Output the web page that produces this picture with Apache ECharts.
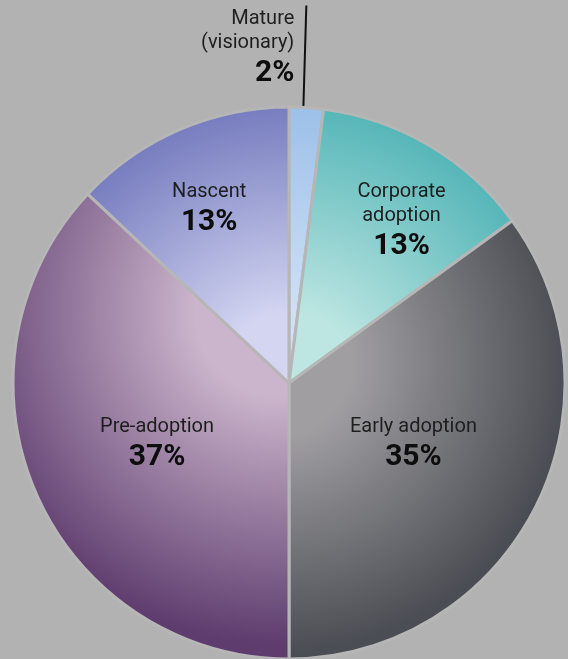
<!DOCTYPE html>
<html>
<head>
<meta charset="utf-8">
<script src="https://cdn.jsdelivr.net/npm/echarts@6/dist/echarts.min.js"></script>
<style>
  html, body { margin: 0; padding: 0; background: #b2b2b2; }
  #chart { width: 568px; height: 659px; }
</style>
</head>
<body>
<div id="chart"></div>
<script>
// Adoption stages, clockwise from 12 o'clock
const stages = ['Mature\n(visionary)', 'Corporate\nadoption', 'Early adoption', 'Pre-adoption', 'Nascent'];
const shares = [2, 13, 35, 37, 13];

// Fill of each slice: light towards the hub, deeper towards the rim
const innerColors = ['#cfe0f6', '#bde6e2', '#a09ea1', '#cbb5cc', '#d3d5f1'];
const outerColors = ['#9cc0e9', '#56b6b8', '#4a4d53', '#5e3c6e', '#777dbf'];

// Pie geometry (px)
const CX = 289, CY = 383, R = 276;

// Where the inside labels sit: fraction of the radius, a small angular nudge (deg), and a vertical drop (px)
const labelRadius = [0, 0.72, 0.50, 0.525, 0.70];
const labelNudge = [0, 3.9, -1.4, -1, -1];
const labelDrop = 3;

// Offset of the radial fill centre for each slice (px), to shade slices unevenly
const fillShift = [[0, 0], [0, 0], [-10, -20], [-10, -70], [0, 0]];
const fillRadius = [R, R, R * 1.05, R * 1.2, R];

const total = shares.reduce((a, b) => a + b, 0);
const midAngles = [];
let acc = 0;
shares.forEach(v => { midAngles.push((acc + v / 2) / total * 360); acc += v; });

const data = stages.map((name, i) => {
  const item = {
    name: name,
    value: shares[i],
    itemStyle: {
      color: {
        type: 'radial',
        x: CX + fillShift[i][0],
        y: CY + fillShift[i][1],
        r: fillRadius[i],
        global: true,
        colorStops: [
          { offset: 0, color: innerColors[i] },
          { offset: 0.25, color: innerColors[i] },
          { offset: 1, color: outerColors[i] }
        ]
      }
    }
  };
  if (i === 0) {
    item.label = { position: 'outside' };
    item.labelLine = { show: true };
  }
  return item;
});

const chart = echarts.init(document.getElementById('chart'), null, { renderer: 'canvas' });

chart.setOption({
  backgroundColor: '#b2b2b2',
  animation: false,
  series: [{
    type: 'pie',
    center: [CX, CY],
    radius: R,
    startAngle: 90,
    clockwise: true,
    avoidLabelOverlap: false,
    emphasis: { disabled: true },
    itemStyle: { borderColor: '#b6b6b6', borderWidth: 3 },
    label: {
      show: true,
      position: 'inside',
      formatter: p => '{n|' + p.name + '}\n{p|' + p.value + '%}',
      rich: {
        n: { fontFamily: 'Roboto', fontSize: 20, fontWeight: 400, color: '#1e1e1e', lineHeight: 24 },
        p: { fontFamily: 'Roboto', fontSize: 30, fontWeight: 'bold', color: '#0d0d0d', lineHeight: 37 }
      }
    },
    labelLine: {
      show: false,
      length: 100,
      length2: 0,
      smooth: false,
      lineStyle: { color: '#111111', width: 2 }
    },
    labelLayout: function (p) {
      const i = p.dataIndex;
      if (i === 0) {
        // near-vertical leader from the slice rim up to the top edge
        const start = p.labelLinePoints[0];
        const foot = [start[0] - 3, start[1] + 1];
        const top = [start[0], start[1] - 102];
        return {
          x: top[0] - 12,
          y: top[1] + 44,
          align: 'right',
          verticalAlign: 'middle',
          labelLinePoints: [foot, top]
        };
      }
      const a = (midAngles[i] + labelNudge[i]) * Math.PI / 180;
      const d = R * labelRadius[i];
      return { x: CX + d * Math.sin(a), y: CY - d * Math.cos(a) + labelDrop, align: 'center' };
    },
    data: data
  }]
});
</script>
</body>
</html>
